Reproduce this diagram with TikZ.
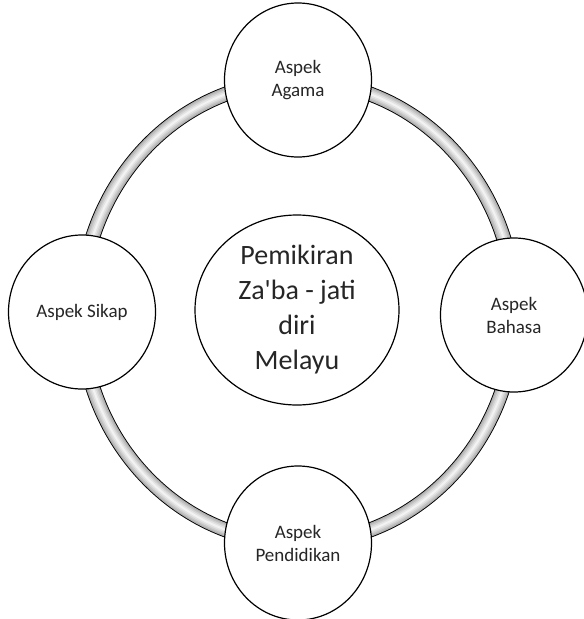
\documentclass[tikz,border=0pt]{standalone}
\usepackage{fontspec}
\setmainfont{Carlito}[Ligatures=TeXOff]
\usetikzlibrary{shapes.geometric}
\begin{document}
\begin{tikzpicture}[x=1pt,y=-1pt,
    aspek/.style={draw,line width=1.2pt,fill=white,ellipse,inner sep=0pt,
      minimum width=147pt,minimum height=154pt,align=center,text=black!85,
      font=\fontsize{19}{23}\selectfont},
    pusat/.style={aspek,minimum width=204pt,minimum height=190pt,
      font=\fontsize{28}{35}\selectfont}]
    \useasboundingbox (0,0) rectangle (584,619);
    \foreach \w/\c in {15/black,13.2/gray!65,11/gray!50,8/gray!35,5/gray!22,2/gray!10}
      \draw[line width=\w pt,\c] (298,312) ellipse [x radius=217pt,y radius=231pt];
    \node[pusat] (pemikiran) at (297,310) {Pemikiran\\Za'ba - jati\\diri\\Melayu};
    \node[aspek] (agama) at (298,80) {Aspek\\Agama};
    \node[aspek] (sikap) at (82,312) {Aspek Sikap};
    \node[aspek] (bahasa) at (514,315) {Aspek\\Bahasa};
    \node[aspek] (pendidikan) at (298,543) {Aspek\\Pendidikan};
  \end{tikzpicture}
\end{document}
